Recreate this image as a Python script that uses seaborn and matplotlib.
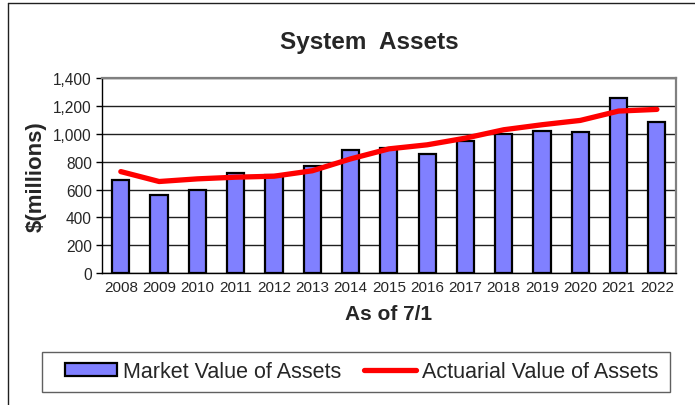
import numpy as np
import pandas as pd
import matplotlib
matplotlib.use("Agg")
import matplotlib.pyplot as plt
from matplotlib.patches import Patch, Rectangle
from matplotlib.lines import Line2D
import seaborn as sns

years = ["2008", "2009", "2010", "2011", "2012", "2013", "2014", "2015",
         "2016", "2017", "2018", "2019", "2020", "2021", "2022"]
market_value = [672, 562, 600, 718, 706, 772, 887, 897, 856, 945, 1000, 1017, 1015, 1256, 1088]
actuarial_value = [729, 658, 677, 689, 696, 735, 820, 892, 921, 969, 1029, 1065, 1096, 1163, 1175]
y_ticks = [0, 200, 400, 600, 800, 1000, 1200, 1400]

df = pd.DataFrame({"year": years, "market": market_value, "actuarial": actuarial_value})

sns.set_theme(style="white")
plt.rcParams["font.family"] = ["Liberation Sans", "DejaVu Sans"]

fig = plt.figure(figsize=(6.95, 4.06), dpi=100)
ax = fig.add_axes([0.1463, 0.3244, 0.8264, 0.481])

bar_color = "#8080FF"
sns.barplot(data=df, x="year", y="market", color=bar_color, saturation=1,
            width=0.45, edgecolor="black", linewidth=1.6, ax=ax, zorder=3)
pos = np.arange(len(years))
sns.lineplot(x=pos, y=df["actuarial"].to_numpy(), color="#FF0000", linewidth=3.8,
             ax=ax, zorder=4, solid_joinstyle="round", solid_capstyle="round")

ax.set_xlim(-0.5, len(years) - 0.5)
ax.set_ylim(0, 1400)
ax.set_yticks(y_ticks)
ax.set_yticklabels([f"{v:,}" for v in y_ticks], fontsize=11.2)
ax.set_xticks(pos)
ax.set_xticklabels(years, fontsize=11)
ax.tick_params(axis="x", which="major", length=0, pad=5)
ax.set_xticks(np.arange(len(years) + 1) - 0.5, minor=True)
ax.tick_params(axis="x", which="minor", length=4, width=1, color="black", direction="out")
ax.tick_params(axis="y", length=4, width=1, color="black", direction="out", left=True, pad=3)

ax.yaxis.grid(True, color="#202020", linewidth=1)
ax.xaxis.grid(False)
ax.set_axisbelow(True)
for side in ["top", "right"]:
    ax.spines[side].set_color("#808080")
    ax.spines[side].set_linewidth(1.6)
    ax.spines[side].set_visible(True)
for side in ["left", "bottom"]:
    ax.spines[side].set_color("black")
    ax.spines[side].set_linewidth(1)
    ax.spines[side].set_visible(True)

ax.set_xlabel("As of 7/1", fontsize=15, fontweight="bold", labelpad=7)
ax.set_ylabel("$(millions)", fontsize=16, fontweight="bold", labelpad=5)
fig.text(0.531, 1 - 42 / 406, "System  Assets", ha="center", va="center",
         fontsize=17.5, fontweight="bold")

handles = [Patch(facecolor=bar_color, edgecolor="black", linewidth=1.6),
           Line2D([0], [0], color="#FF0000", linewidth=3.8)]
leg = fig.legend(handles, ["Market Value of Assets", "Actuarial Value of Assets"],
                 loc="center", bbox_to_anchor=(0.512 + 6 / 695, 1 - 373 / 406), ncol=2,
                 fontsize=15.5, frameon=False, handlelength=2.4,
                 handleheight=0.55, handletextpad=0.3, columnspacing=1.05,
                 borderpad=0.35, borderaxespad=0)

# legend frame box
fig.add_artist(Rectangle((42 / 695, 1 - 393 / 406), 628 / 695, 40 / 406,
                         transform=fig.transFigure, fill=False,
                         edgecolor="#606060", linewidth=1))

# outer chart border (left and top)
fig.add_artist(Line2D([7.5 / 695, 7.5 / 695], [0, 1 - 3.5 / 406], transform=fig.transFigure,
                      color="#202020", linewidth=1))
fig.add_artist(Line2D([7.5 / 695, 1], [1 - 3.5 / 406, 1 - 3.5 / 406], transform=fig.transFigure,
                      color="#202020", linewidth=1))

fig.savefig("out.png", dpi=100)
